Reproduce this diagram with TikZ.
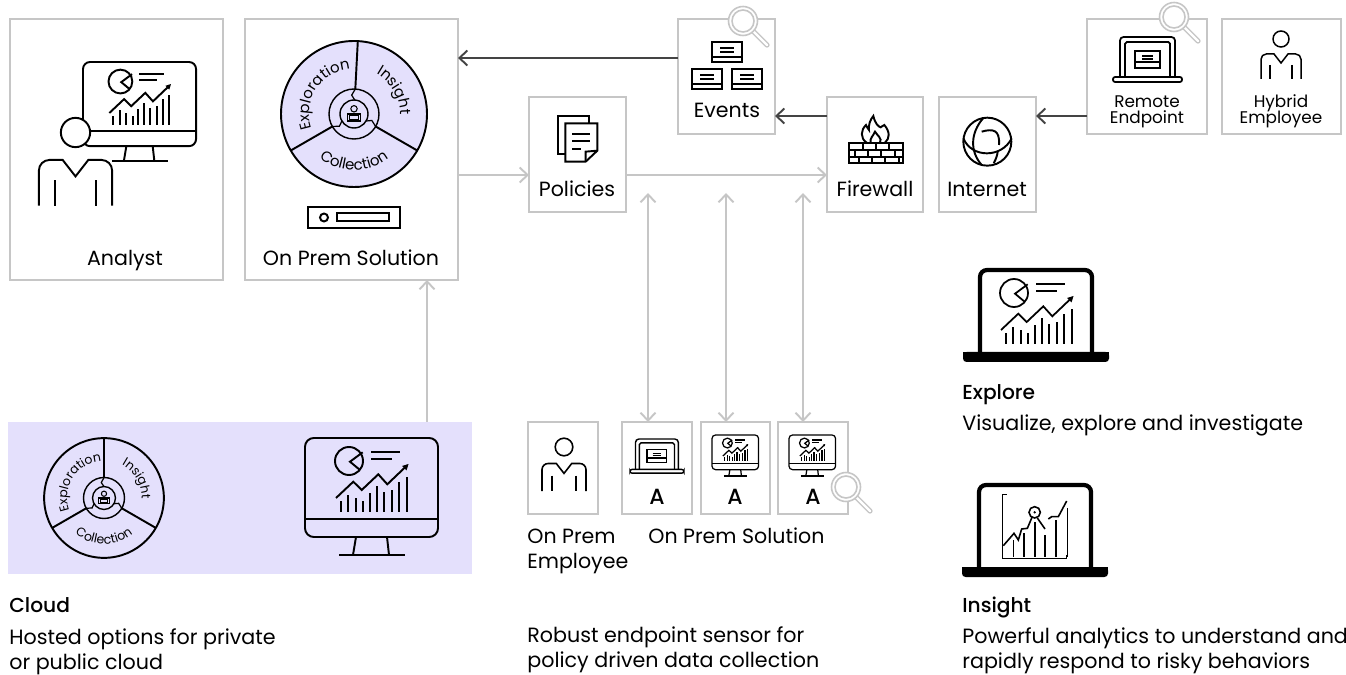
\documentclass[tikz,border=0pt]{standalone}
\usepackage{fontspec}
\setmainfont{Poppins}[BoldFont={Poppins Medium}]
\usetikzlibrary{arrows.meta,decorations.text}

\definecolor{boxgray}{HTML}{C6C6C6}
\definecolor{linkdark}{HTML}{444444}
\definecolor{lavender}{HTML}{E4E0FC}

\newcommand{\dashart}{
  \draw (44,-23) circle (14);
  \draw (57.7,-14.3) -- (45,-23.7) -- (55,-32);
  \draw (66,-14) -- (95,-14);
  \draw (66,-21) -- (87,-21);
  \draw (31,-60) -- (48.3,-43.7) -- (56.7,-52) -- (73.3,-36.3) -- (82.3,-46.3) -- (102,-27.5);
  \fill (103.5,-26) -- (97,-28) -- (101.5,-32.5) -- cycle;
  \foreach \x/\t in {35.7/63,43.3/57,51/59.7,58.3/63,65/55.3,71.7/47.7,79.3/54.3,87/52,94.3/43.7,101.7/38.7}
    \draw (\x,-73.7) -- (\x,-\t);
}

\tikzset{
  >={Straight Barb[length=4.5pt,width=8.5pt]},
  box/.style 2 args={draw=boxgray,line width=1.2pt,fill=white,anchor=north west,inner sep=0pt,outer sep=0pt,
    minimum width=#1*0.02cm,minimum height=#2*0.02cm},
  graylink/.style={draw=boxgray,line width=1.1pt},
  darklink/.style={draw=linkdark,line width=1.1pt},
  boxlabel/.style={inner sep=0pt,anchor=base,font=\fontsize{11.7}{14.2}\selectfont},
  smalllabel/.style={inner sep=0pt,anchor=base,align=center,font=\fontsize{9.6}{9.6}\selectfont},
  agentlabel/.style={inner sep=0pt,anchor=base,font=\fontsize{12.5}{14}\selectfont\bfseries},
  bodytext/.style={inner sep=0pt,anchor=base west,align=left,font=\fontsize{11.75}{14.2}\selectfont},
  headtext/.style={inner sep=0pt,anchor=base west,font=\fontsize{11.5}{14.2}\selectfont\bfseries},
  pics/dash/.style={code={\dashart}},
  pics/monitor/.style={code={
    \draw[rounded corners=#1] (0,0) rectangle (133,-99);
    \draw (0,-81) -- (133,-81);
    \draw (51,-99) -- (48,-117);
    \draw (82,-99) -- (84,-117);
    \draw (34,-117) -- (100,-117);
    \dashart
  }},
  pics/person/.style={code={
    \draw (0,0) circle (8);
    \draw[rounded corners=#1] (-20,-40) -- (-20,-15) [sharp corners] -- (-7,-15) -- (0,-24) -- (7,-15) [rounded corners=#1] -- (20,-15) -- (20,-40);
    \draw (-11,-26) -- (-11,-40);
    \draw (11,-26) -- (11,-40);
  }},
  pics/notebook/.style={code={
    \draw[rounded corners=2pt] (7,-40) -- (7,0) -- (62,0) -- (62,-40);
    \draw[rounded corners=1pt] (12,-40) -- (12,-5) -- (57,-5) -- (57,-40);
    \draw[rounded corners=1.2pt] (0,-40) rectangle (69,-45);
    \draw (22,-14) rectangle (47,-31);
    \draw (22,-25) -- (47,-25);
    \draw (29,-19) -- (40,-19);
    \draw (29,-22) -- (40,-22);
  }},
  pics/bigbook/.style={code={
    \draw[line width=2.4pt,rounded corners=4pt] (2,-86) -- (2,-2) -- (114,-2) -- (114,-86);
    \fill[rounded corners=2pt] (-15,-84) -- (131,-84) -- (131,-94) -- (-15,-94) -- cycle;
    \fill (-15,-84) rectangle (131,-88);
  }},
  pics/eventcard/.style={code={
    \draw (0,0) rectangle (30,-20);
    \draw (0,-15) -- (30,-15);
    \draw (8,-6) -- (22,-6);
    \draw (8,-10) -- (22,-10);
  }},
  pics/lens/.style={code={
    \draw[boxgray,line width=3pt,line cap=round] (9,-9) -- (24,-24);
    \draw[white,line width=1.3pt,line cap=round] (9.5,-9.5) -- (24,-24);
    \fill[white] (0,0) circle (14.5);
    \draw[boxgray,line width=.9pt] (0,0) circle (14.5);
    \draw[boxgray,line width=.9pt] (0,0) circle (11);
  }},
  pics/wheel/.style 2 args={code={
    \fill[lavender] (0,0) circle (73);
    \foreach \a in {#2,210,330} {
      \draw (\a:73) -- (\a:25);
      \draw[line width=.7pt] (\a:25) -- (\a+10:19) -- (\a:14);
    }
    \draw (0,0) circle (73);
    \draw[line width=.8pt] (0,0) circle (25);
    \draw[line width=.8pt] (0,0) circle (14);
    \draw[line width=.6pt] (0,5.2) circle (3.2);
    \draw[line width=.6pt] (-6.5,0) rectangle (6.5,-7);
    \draw[line width=.6pt] (-4.2,-1.2) rectangle (4.2,-5.8);
    \path[decorate,decoration={text along path,text align=center,text={|\fontsize{#1}{#1}\selectfont|Exploration}}]
      (196:45) arc (196:98:45);
    \path[decorate,decoration={text along path,text align=center,text={|\fontsize{#1}{#1}\selectfont|Insight}}]
      (64:46) arc (64:-4:46);
    \path[decorate,decoration={text along path,text align=center,text={|\fontsize{#1}{#1}\selectfont|Collection}}]
      (232:56) arc (232:308:56);
  }},
}

\begin{document}
\begin{tikzpicture}[x=0.02cm,y=0.02cm]
  \useasboundingbox (0,0) rectangle (1346,-675);

  % Kaesten oben
  \node[box={213}{261}] (analyst) at (10,-19) {};
  \node[box={213}{261}] (onprem) at (245,-19) {};
  \node[box={97}{115}] (events) at (678,-19) {};
  \node[box={97}{115}] (policies) at (529,-97) {};
  \node[box={96}{115}] (firewall) at (827,-97) {};
  \node[box={97}{115}] (internet) at (939,-97) {};
  \node[box={120}{115}] (remote) at (1087,-19) {};
  \node[box={119}{115}] (hybrid) at (1222,-19) {};

  % Kaesten unten
  \node[anchor=north west,fill=lavender,inner sep=0pt,minimum width=464*0.02cm,minimum height=152*0.02cm] (cloud) at (8,-422) {};
  \node[box={70}{92}] (employee) at (528,-422) {};
  \node[box={70}{92}] (agentA) at (622,-422) {};
  \node[box={69}{92}] (agentB) at (701,-422) {};
  \node[box={70}{92}] (agentC) at (778,-422) {};

  % Verbindungen
  \coordinate (lvlEvents) at (0,-58);
  \coordinate (lvlFire) at (0,-116);
  \coordinate (lvlPolicy) at (0,-175);
  \coordinate (riser) at (427,-350);
  \coordinate (tipA) at (648,-193);
  \coordinate (tipB) at (726,-193);
  \coordinate (tipC) at (803,-193);
  \draw[darklink,->] (events.west |- lvlEvents) -- (onprem.east |- lvlEvents);
  \draw[darklink,->] (firewall.west |- lvlFire) -- (events.east |- lvlFire);
  \draw[darklink,->] (remote.west |- lvlFire) -- (internet.east |- lvlFire);
  \draw[graylink,->] (onprem.east |- lvlPolicy) -- (policies.west |- lvlPolicy);
  \draw[graylink,->] (policies.east |- lvlPolicy) -- (firewall.west |- lvlPolicy);
  \draw[graylink,->] (riser |- cloud.north) -- (riser |- onprem.south);
  \draw[graylink,<->] (tipA) -- (tipA |- agentA.north);
  \draw[graylink,<->] (tipB) -- (tipB |- agentB.north);
  \draw[graylink,<->] (tipC) -- (tipC |- agentC.north);

  % Analyst und On Prem
  \pic[scale=.85,line width=1.1pt] at (83,-62) {monitor={4pt}};
  \fill[white] (75,-132) circle (14.5);
  \pic[scale=1.83,line width=1.1pt] at (75.5,-132.5) {person={6pt}};
  \pic[line width=1.1pt] at (354,-114) {wheel={8.5}{87}};
  \draw[line width=1.1pt] (308,-207) rectangle (400,-228);
  \draw[line width=1.1pt] (324,-217.5) circle (4);
  \draw[line width=1.1pt] (337,-213) rectangle (389,-221);

  % Events
  \pic[line width=1.1pt] at (712,-42) {eventcard};
  \pic[line width=1.1pt] at (692,-69) {eventcard};
  \pic[line width=1.1pt] at (732,-69) {eventcard};
  \pic at (743,-21) {lens};

  % Policies
  \begin{scope}[shift={(520,0)},scale=1/3,line width=1.1pt]
    \draw (136,-462) -- (113,-462) -- (113,-347) -- (208,-347) -- (208,-370);
    \draw (197,-485) -- (136,-485) -- (136,-370) -- (232,-370) -- (232,-452) -- cycle;
    \draw (232,-452) -- (197,-455) -- (197,-485);
    \draw (157,-402) -- (210,-402);
    \draw (157,-424) -- (210,-424);
    \draw (157,-446) -- (182,-446);
  \end{scope}

  % Firewall
  \begin{scope}[shift={(840,-110)},scale=1/3,line width=1.1pt]
    \draw (27,-100) rectangle (188,-160);
    \draw (27,-120) -- (188,-120);
    \draw (27,-140) -- (188,-140);
    \foreach \x in {69,107,146} \draw (\x,-100) -- (\x,-120);
    \foreach \x in {44,84,124,164} \draw (\x,-120) -- (\x,-140);
    \foreach \x in {57,97,136,176} \draw (\x,-140) -- (\x,-160);
    \draw (80,-98) .. controls (60,-85) and (62,-60) .. (78,-45) .. controls (80,-50) and (83,-55) .. (87,-60)
      .. controls (85,-45) and (90,-30) .. (100,-18) .. controls (105,-40) and (115,-50) .. (122,-52)
      .. controls (124,-50) and (128,-48) .. (133,-45) .. controls (150,-65) and (150,-85) .. (135,-98);
    \draw (92,-98) .. controls (88,-85) and (100,-78) .. (105,-65) .. controls (110,-75) and (128,-85) .. (120,-98);
  \end{scope}

  % Internet
  \begin{scope}[shift={(955,-110)},scale=1/3,line width=1.1pt]
    \draw (97,-95) circle (72);
    \draw (85,-24) .. controls (45,-70) and (45,-125) .. (80,-165);
    \draw (80,-65) .. controls (115,-55) and (135,-60) .. (132,-105);
    \draw (25,-85) .. controls (50,-145) and (140,-145) .. (170,-85);
    \draw (128,-125) .. controls (127,-135) and (124,-145) .. (116,-160);
  \end{scope}

  % Remote und Hybrid
  \pic[line width=1pt] at (1113,-37) {notebook};
  \pic at (1174,-17) {lens};
  \pic[line width=.85pt] at (1281,-39) {person={3pt}};

  % Cloud
  \pic[scale=.82,line width=1.1pt] at (104,-498) {wheel={7.1}{90}};
  \pic[line width=1.1pt] at (305,-438) {monitor={5pt}};

  % Endpunkte
  \pic[scale=1.1,line width=.9pt] at (564,-447) {person={3.5pt}};
  \pic[xscale=.78,yscale=.76,line width=.8pt] at (630,-439) {notebook};
  \pic[scale=.35,line width=.7pt] at (712,-435) {monitor={2pt}};
  \pic[scale=.35,line width=.7pt] at (789,-435) {monitor={2pt}};
  \pic at (846,-487) {lens};

  % Explore und Insight
  \pic[line width=1.1pt] at (978,-268) {bigbook};
  \pic[line width=1pt] at (970,-270) {dash};
  \pic[line width=1.1pt] at (977,-483) {bigbook};
  \begin{scope}[shift={(950,-255)},scale=1/3,line width=.9pt]
    \draw (170,-718) -- (157,-718) -- (157,-910) -- (350,-910) -- (350,-900);
    \foreach \x/\t in {190/855,222/835,255/800,285/840,318/795,352/760}
      \draw (\x,-905) -- (\x,-\t);
    \draw (160,-872) -- (192,-835) -- (205,-855) -- (215,-822) -- (232,-820) -- (246,-787);
    \draw (262,-789) -- (285,-822);
    \draw (295,-792) -- (305,-785) -- (325,-785) -- (350,-738);
    \draw (254,-772) circle (17);
    \fill (254,-772) circle (4);
  \end{scope}

  % Beschriftung
  \node[boxlabel] (analystLabel) at (125,-266) {Analyst};
  \node[boxlabel] (onpremLabel) at (351,-266) {On Prem Solution};
  \node[boxlabel] (eventsLabel) at (727,-118) {Events};
  \node[boxlabel] (policiesLabel) at (577,-197) {Policies};
  \node[boxlabel] (firewallLabel) at (875,-197) {Firewall};
  \node[boxlabel] (internetLabel) at (987,-197) {Internet};
  \node[smalllabel] (remoteLabel) at (1147,-124) {Remote\\Endpoint};
  \node[smalllabel] (hybridLabel) at (1281,-124) {Hybrid\\Employee};
  \node[agentlabel] (agentLabelA) at (657,-504) {A};
  \node[agentlabel] (agentLabelB) at (735,-504) {A};
  \node[agentlabel] (agentLabelC) at (813,-504) {A};
  \node[boxlabel,anchor=base west,align=left] (employeeLabel) at (527,-568) {On Prem\\Employee};
  \node[boxlabel,anchor=base west] (solutionLabel) at (648,-543) {On Prem Solution};
  \node[bodytext] (robustText) at (527,-667) {Robust endpoint sensor for\\policy driven data collection};
  \node[headtext] (cloudHead) at (9,-612) {Cloud};
  \node[bodytext] (cloudText) at (9,-669) {Hosted options for private\\or public cloud};
  \node[headtext] (exploreHead) at (962,-400) {Explore};
  \node[bodytext] (exploreText) at (962,-431) {Visualize, explore and investigate};
  \node[headtext] (insightHead) at (962,-612) {Insight};
  \node[bodytext] (insightText) at (962,-668) {Powerful analytics to understand and\\rapidly respond to risky behaviors};
\end{tikzpicture}
\end{document}
